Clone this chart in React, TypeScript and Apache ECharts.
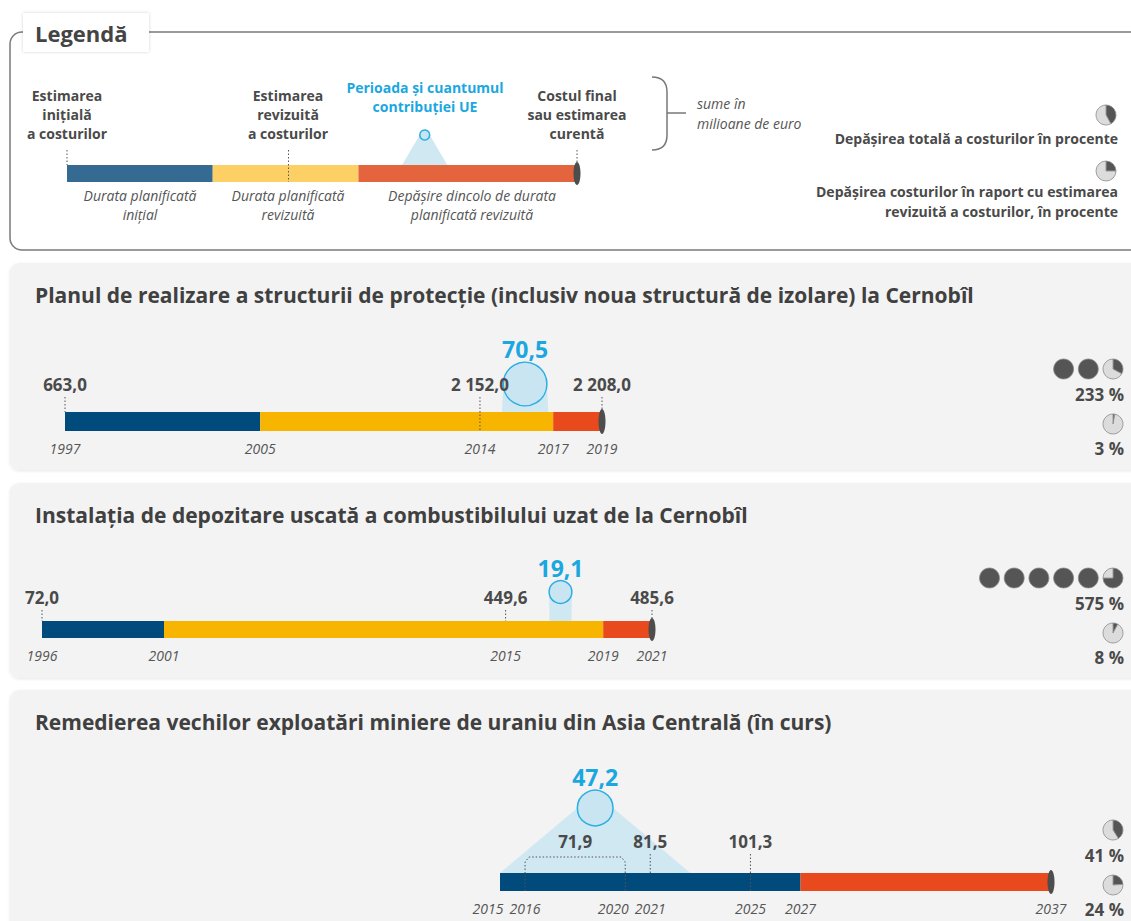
import React, { useEffect, useRef } from "react";
import * as echarts from "echarts";

// ---------------- DATA ----------------
const legendPhases = [0, 1, 2, 3.5];
const legendCostMarks = [0, 1.52, 3.5];
const legendEuPeriod = [2.3, 2.61];
const legendPieShares = [42, 25];

const p1Title = "Planul de realizare a structurii de protecție (inclusiv noua structură de izolare) la Cernobîl";
const p1Phases = [1997, 2005, 2017, 2019];
const p1YearTicks = [1997, 2005, 2014, 2017, 2019];
const p1CostFrom = [1997, 2014, 2019];
const p1CostTo = [1997, 2014, 2019];
const p1Costs = [663.0, 2152.0, 2208.0];
const p1EuPeriod = [2014.9, 2016.8];
const p1EuAmount = 70.5;
const p1Overrun = [233, 3];

const p2Title = "Instalația de depozitare uscată a combustibilului uzat de la Cernobîl";
const p2Phases = [1996, 2001, 2019, 2021];
const p2YearTicks = [1996, 2001, 2015, 2019, 2021];
const p2CostFrom = [1996, 2015, 2021];
const p2CostTo = [1996, 2015, 2021];
const p2Costs = [72.0, 449.6, 485.6];
const p2EuPeriod = [2016.8, 2017.7];
const p2EuAmount = 19.1;
const p2Overrun = [575, 8];

const p3Title = "Remedierea vechilor exploatări miniere de uraniu din Asia Centrală (în curs)";
const p3Phases = [2015, 2027, 2027, 2037];
const p3YearTicks = [2015, 2016, 2020, 2021, 2025, 2027, 2037];
const p3CostFrom = [2016, 2021, 2025];
const p3CostTo = [2020, 2021, 2025];
const p3Costs = [71.9, 81.5, 101.3];
const p3EuPeriod = [2015, 2022.6];
const p3EuAmount = 47.2;
const p3Overrun = [41, 24];

// ---------------- STYLE / LAYOUT ----------------
const FONT = '"Open Sans", "Noto Sans", "DejaVu Sans", sans-serif';
const font = (size: number, weight: number = 700, style = "normal") => `${style} ${weight} ${size}px ${FONT}`;
const TEXT = "#4a4a4a";
const GREY = "#555555";
const PHASE_COLORS = ["#004b7c", "#f8b500", "#e84a1e"];
const LEGEND_COLORS = ["#356a93", "#fdd066", "#e4643e"];
const EU_TEXT = "#1ba7df";

const layouts = [
  { panelTop: 263, panelH: 207, barTop: 412, barH: 19, left: 65, right: 602, costDy: -28, euDy: -28, through: [false, true, false] },
  { panelTop: 483, panelH: 195, barTop: 621, barH: 17, left: 42, right: 652, costDy: -24, euDy: -29, through: [false, false, false] },
  { panelTop: 690, panelH: 250, barTop: 873, barH: 18, left: 500, right: 1051, costDy: -32, euDy: -65, through: [true, false, true] },
];

const projects = [
  { title: p1Title, phases: p1Phases, years: p1YearTicks, costFrom: p1CostFrom, costTo: p1CostTo, costs: p1Costs, euPeriod: p1EuPeriod, eu: p1EuAmount, overrun: p1Overrun },
  { title: p2Title, phases: p2Phases, years: p2YearTicks, costFrom: p2CostFrom, costTo: p2CostTo, costs: p2Costs, euPeriod: p2EuPeriod, eu: p2EuAmount, overrun: p2Overrun },
  { title: p3Title, phases: p3Phases, years: p3YearTicks, costFrom: p3CostFrom, costTo: p3CostTo, costs: p3Costs, euPeriod: p3EuPeriod, eu: p3EuAmount, overrun: p3Overrun },
];

const fmt = (v: number) => {
  const [i, d] = v.toFixed(1).split(".");
  return i.replace(/\B(?=(\d{3})+(?!\d))/g, " ") + "," + d;
};

const txt = (text: string, x: number, y: number, f: string, fill: string, align = "left") => ({
  type: "text",
  style: { text, x, y, font: f, fill, align, textAlign: align, verticalAlign: "middle", textVerticalAlign: "middle" },
});

const dotted = { stroke: "#555", lineWidth: 1, lineDash: [1.5, 2] };

function makeRenderer(cfg: any) {
  return (_params: any, api: any) => {
    const X = (v: number) => api.coord([v, 0])[0];
    const top = api.coord([cfg.phases[0], 1])[1];
    const bot = api.coord([cfg.phases[0], 0])[1];
    const h = bot - top;
    const ch: any[] = [];
    // EU contribution
    const ex0 = X(cfg.euPeriod[0]);
    const ex1 = X(cfg.euPeriod[1]);
    const cx = (ex0 + ex1) / 2;
    const cy = top + cfg.euDy;
    const r = cfg.eu != null ? 2.6 * Math.sqrt(cfg.eu) : 5;
    ch.push({ type: "polygon", shape: { points: [[ex0, top], [ex1, top], [cx + r, cy], [cx - r, cy]] }, style: { fill: "#cfe8f2" } });
    ch.push({ type: "circle", shape: { cx, cy, r }, style: { fill: "#c8e5f1", stroke: "#2aaee3", lineWidth: 1.5 } });
    if (cfg.eu != null) ch.push(txt(fmt(cfg.eu), cx, cy - r - 13, font(23), EU_TEXT, "center"));
    // phase segments
    for (let k = 0; k < 3; k++) {
      const x0 = X(cfg.phases[k]);
      const x1 = X(cfg.phases[k + 1]);
      if (x1 - x0 > 0.5) ch.push({ type: "rect", shape: { x: x0, y: top, width: x1 - x0, height: h }, style: { fill: cfg.colors[k] } });
    }
    // end cap
    const xe = X(cfg.phases[3]);
    ch.push({ type: "ellipse", shape: { cx: xe, cy: top + h / 2, rx: 3.5, ry: h / 2 + 3 }, style: { fill: "#4d4d4d" } });
    // cost marks
    for (let i = 0; i < cfg.costFrom.length; i++) {
      const a = X(cfg.costFrom[i]);
      const b = X(cfg.costTo[i]);
      const endY = cfg.through[i] ? bot : top;
      const lineTop = top + cfg.costDy + 13;
      if (b - a < 0.5) {
        ch.push({ type: "line", shape: { x1: a, y1: lineTop, x2: a, y2: endY }, style: dotted });
        if (cfg.costs) ch.push(txt(fmt(cfg.costs[i]), a, top + cfg.costDy, font(17), TEXT, "center"));
      } else {
        const by = top + cfg.costDy + 16;
        ch.push({ type: "polyline", shape: { points: [[a, endY], [a, by + 5], [a + 4, by], [b - 4, by], [b, by + 5], [b, endY]] }, style: { ...dotted, fill: null } });
        if (cfg.costs) ch.push(txt(fmt(cfg.costs[i]), (a + b) / 2, top + cfg.costDy, font(17), TEXT, "center"));
      }
    }
    // year labels
    if (cfg.years) {
      const pos = cfg.years.map(X);
      const minGap = 37;
      for (let i = pos.length - 2; i >= 0; i--) {
        if (pos[i + 1] - pos[i] < minGap) pos[i] = pos[i + 1] - minGap;
      }
      cfg.years.forEach((yv: number, i: number) => {
        ch.push(txt(String(yv), pos[i], bot + 17, font(14, 400, "italic"), GREY, "center"));
      });
    }
    return { type: "group", children: ch };
  };
}

function pieSeries(share: number, cx: number, cy: number) {
  return {
    type: "pie",
    silent: true,
    center: [cx, cy],
    radius: 10,
    startAngle: 90,
    clockwise: true,
    label: { show: false },
    labelLine: { show: false },
    emphasis: { disabled: true },
    itemStyle: { borderColor: "#8a8a8a", borderWidth: 0.8 },
    data: share >= 100 ? [{ value: 1, itemStyle: { color: "#555" } }] : [
      { value: share, itemStyle: { color: "#555" } },
      { value: 100 - share, itemStyle: { color: "#dcdcdc" } },
    ],
  };
}

function overrunPies(value: number, rightX: number, cy: number) {
  const full = Math.floor(value / 100);
  const rem = value - full * 100;
  const shares: number[] = [];
  for (let i = 0; i < full; i++) shares.push(100);
  if (rem > 0 || full === 0) shares.push(rem);
  const n = shares.length;
  return shares.map((s, i) => pieSeries(s, rightX - (n - 1 - i) * 24.7, cy));
}

function buildOption() {
  const grids: any[] = [];
  const xAxes: any[] = [];
  const yAxes: any[] = [];
  const series: any[] = [];
  const graphics: any[] = [];

  // ----- Legend box -----
  graphics.push({ type: "rect", shape: { x: 10, y: 32, width: 1150, height: 218, r: 12 }, style: { fill: "none", stroke: "#7a7a7a", lineWidth: 1.5 } });
  graphics.push({ type: "rect", shape: { x: 23, y: 13, width: 126, height: 39 }, style: { fill: "#fff", shadowBlur: 3, shadowColor: "rgba(0,0,0,0.18)" } });
  graphics.push(txt("Legendă", 35, 33, font(22), "#444", "left"));

  const headers = [
    { x: 67, lines: ["Estimarea", "inițială", "a costurilor"], y0: 95 },
    { x: 288, lines: ["Estimarea", "revizuită", "a costurilor"], y0: 95 },
    { x: 577, lines: ["Costul final", "sau estimarea", "curentă"], y0: 95 },
  ];
  headers.forEach((h) => h.lines.forEach((l, i) => graphics.push(txt(l, h.x, h.y0 + i * 19, font(14), TEXT, "center"))));
  graphics.push(txt("Perioada și cuantumul", 425, 87, font(14), EU_TEXT, "center"));
  graphics.push(txt("contribuției UE", 425, 106, font(14), EU_TEXT, "center"));
  const capts = [
    { x: 140, lines: ["Durata planificată", "inițial"] },
    { x: 288, lines: ["Durata planificată", "revizuită"] },
    { x: 472, lines: ["Depășire dincolo de durata", "planificată revizuită"] },
  ];
  capts.forEach((c) => c.lines.forEach((l, i) => graphics.push(txt(l, c.x, 195 + i * 19, font(14, 400, "italic"), GREY, "center"))));
  // brace
  const braceStyle = { stroke: "#777", lineWidth: 1.5, fill: null };
  graphics.push({ type: "bezierCurve", shape: { x1: 652, y1: 77, cpx1: 667, cpy1: 77, x2: 667, y2: 92 }, style: braceStyle });
  graphics.push({ type: "line", shape: { x1: 667, y1: 92, x2: 667, y2: 135 }, style: braceStyle });
  graphics.push({ type: "bezierCurve", shape: { x1: 667, y1: 135, cpx1: 667, cpy1: 150, x2: 652, y2: 150 }, style: braceStyle });
  graphics.push({ type: "line", shape: { x1: 667, y1: 113, x2: 686, y2: 113 }, style: braceStyle });
  graphics.push(txt("sume în", 697, 103, font(14, 400, "italic"), GREY, "left"));
  graphics.push(txt("milioane de euro", 697, 123, font(14, 400, "italic"), GREY, "left"));
  graphics.push(txt("Depășirea totală a costurilor în procente", 1118, 138, font(14), TEXT, "right"));
  graphics.push(txt("Depășirea costurilor în raport cu estimarea", 1118, 191, font(14), TEXT, "right"));
  graphics.push(txt("revizuită a costurilor, în procente", 1118, 211, font(14), TEXT, "right"));
  series.push(pieSeries(legendPieShares[0], 1106, 115));
  series.push(pieSeries(legendPieShares[1], 1106, 171));

  // legend bar grid
  grids.push({ left: 67, width: 510, top: 165, height: 17, outerBoundsMode: "none", containLabel: false });
  xAxes.push({ type: "value", gridIndex: 0, min: legendPhases[0], max: legendPhases[3], show: false });
  yAxes.push({ type: "value", gridIndex: 0, min: 0, max: 1, show: false });
  series.push({
    type: "custom", xAxisIndex: 0, yAxisIndex: 0, clip: false, silent: true, z: 3,
    data: [[legendPhases[0], 0]],
    renderItem: makeRenderer({
      phases: legendPhases, colors: LEGEND_COLORS, costFrom: legendCostMarks, costTo: legendCostMarks,
      through: [false, true, false], costDy: -28, euPeriod: legendEuPeriod, euDy: -30,
    }),
  });

  // ----- Projects -----
  projects.forEach((p, idx) => {
    const L = layouts[idx];
    const gi = idx + 1;
    graphics.push({ type: "rect", shape: { x: 10, y: L.panelTop, width: 1150, height: L.panelH, r: 9 }, style: { fill: "#f3f3f3", shadowBlur: 3, shadowColor: "rgba(0,0,0,0.10)", shadowOffsetY: 1 } });
    graphics.push(txt(p.title, 35, L.panelTop + 32, font(21), "#404040", "left"));
    grids.push({ left: L.left, width: L.right - L.left, top: L.barTop, height: L.barH, outerBoundsMode: "none", containLabel: false });
    xAxes.push({ type: "value", gridIndex: gi, min: p.phases[0], max: p.phases[3], show: false });
    yAxes.push({ type: "value", gridIndex: gi, min: 0, max: 1, show: false });
    series.push({
      type: "custom", xAxisIndex: gi, yAxisIndex: gi, clip: false, silent: true, z: 3,
      data: [[p.phases[0], 0]],
      renderItem: makeRenderer({
        phases: p.phases, colors: PHASE_COLORS, years: p.years, costFrom: p.costFrom, costTo: p.costTo, costs: p.costs,
        through: L.through, costDy: L.costDy, euPeriod: p.euPeriod, eu: p.eu, euDy: L.euDy,
      }),
    });
    // overrun pies
    const row1 = L.barTop - 43;
    const row2 = L.barTop + 12;
    series.push(...overrunPies(p.overrun[0], 1113, row1));
    series.push(...overrunPies(p.overrun[1], 1113, row2));
    graphics.push(txt(`${p.overrun[0]} %`, 1124, L.barTop - 18, font(17), TEXT, "right"));
    graphics.push(txt(`${p.overrun[1]} %`, 1124, L.barTop + 36, font(17), TEXT, "right"));
  });

  return {
    animation: false,
    backgroundColor: "#ffffff",
    grid: grids,
    xAxis: xAxes,
    yAxis: yAxes,
    graphic: { elements: graphics },
    series,
  };
}

export default function App() {
  const ref = useRef<HTMLDivElement>(null);
  useEffect(() => {
    const chart = echarts.init(ref.current!, null, { renderer: "svg" });
    chart.setOption(buildOption() as any);
    return () => chart.dispose();
  }, []);
  return <div ref={ref} style={{ position: "absolute", left: 0, top: 0, width: 1131, height: 921, background: "#fff" }} />;
}
